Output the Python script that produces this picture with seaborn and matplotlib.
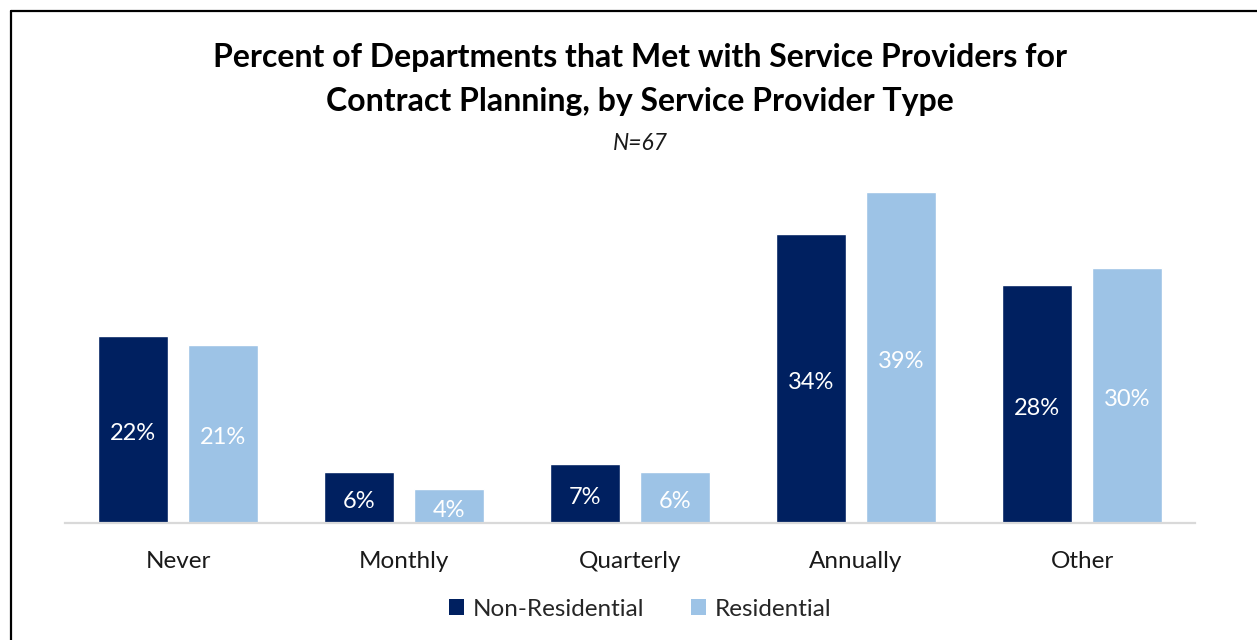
import matplotlib
matplotlib.use("Agg")
import matplotlib.pyplot as plt
from matplotlib.patches import Patch
from matplotlib.lines import Line2D
import seaborn as sns
import pandas as pd

# Survey results
categories = ["Never", "Monthly", "Quarterly", "Annually", "Other"]
non_residential = [22, 6, 7, 34, 28]
residential = [21, 4, 6, 39, 30]
series_names = ["Non-Residential", "Residential"]
colors = ["#002060", "#9DC3E6"]

df = pd.DataFrame({
    "Frequency": categories * 2,
    "Type": [series_names[0]] * len(categories) + [series_names[1]] * len(categories),
    "Percent": non_residential + residential,
})

sns.set_theme(style="white")
plt.rcParams["font.family"] = ["Lato", "DejaVu Sans"]

W, H = 1257, 640
fig = plt.figure(figsize=(W / 100, H / 100), dpi=100)

# axes placed in pixel terms: x 65..1195, baseline at y=523, 40% at y=183
ax = fig.add_axes([65 / W, 1 - 523 / H, (1195 - 65) / W, (523 - 183) / H])
sns.barplot(data=df, x="Frequency", y="Percent", hue="Type", order=categories,
            hue_order=series_names, palette=colors, width=0.8, gap=0.22,
            saturation=1, ax=ax, legend=False)

ax.set_xlim(-0.5, len(categories) - 0.5)
ax.set_ylim(0, 40)
ax.set_xlabel("")
ax.set_ylabel("")
ax.set_yticks([])
for side in ["left", "right", "top"]:
    ax.spines[side].set_visible(False)
ax.spines["bottom"].set_color("#D9D9D9")
ax.spines["bottom"].set_linewidth(1.6)
ax.tick_params(axis="x", length=0, pad=20, labelsize=17.5, labelcolor="#1a1a1a")

# value labels inside bars, centred slightly below the bar midpoint
for container in ax.containers:
    for rect, v in zip(container, container.datavalues):
        ax.annotate(f"{v:.0f}%", (rect.get_x() + rect.get_width() / 2, v / 2),
                    xytext=(0, -3), textcoords="offset points",
                    ha="center", va="center", color="white", fontsize=17)

# titles
cx = 640 / W
fig.text(cx, 1 - 57 / H, "Percent of Departments that Met with Service Providers for",
         ha="center", va="center", fontsize=23, fontweight="bold", color="black")
fig.text(cx, 1 - 102 / H, "Contract Planning, by Service Provider Type",
         ha="center", va="center", fontsize=23, fontweight="bold", color="black")
fig.text(cx, 1 - 143 / H, "N=67", ha="center", va="center", fontsize=16.5,
         style="italic", color="#1a1a1a")

# legend
handles = [Patch(facecolor=c, edgecolor="none") for c in colors]
fig.legend(handles, series_names, loc="center", bbox_to_anchor=(cx, 1 - 609 / H),
           ncol=2, frameon=False, fontsize=17.5, handlelength=0.65, handleheight=0.65,
           handletextpad=0.35, columnspacing=1.9)

# chart border (left and top edges)
fig.add_artist(Line2D([11 / W, 11 / W], [0, 1 - 11 / H], transform=fig.transFigure,
                      color="black", linewidth=1.6))
fig.add_artist(Line2D([11 / W, 1], [1 - 11 / H, 1 - 11 / H], transform=fig.transFigure,
                      color="black", linewidth=1.6))

fig.savefig("out.png", dpi=100, facecolor="white")
